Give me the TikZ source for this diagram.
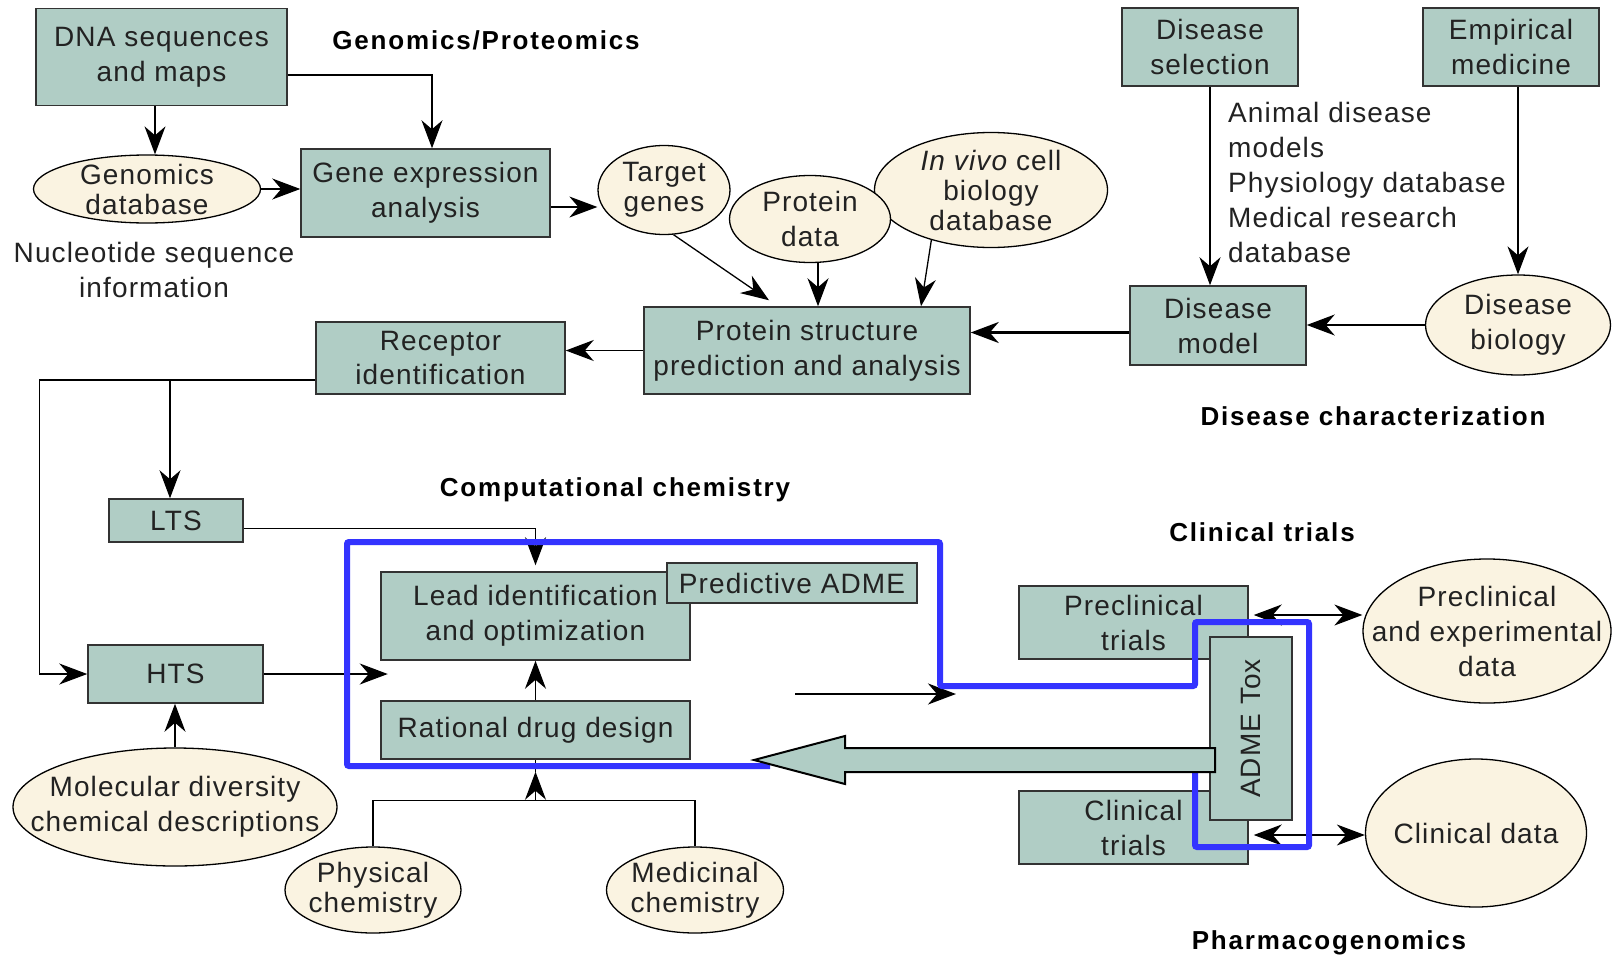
\documentclass[tikz,border=0pt]{standalone}
\usepackage{fontspec}
\setmainfont{Liberation Sans}
\newfontfamily\boxfont[LetterSpace=4]{Liberation Sans}
\newfontfamily\lblfont[LetterSpace=7]{Liberation Sans}
\usetikzlibrary{shapes.geometric,arrows.meta,calc}
\definecolor{boxfill}{HTML}{B0CDC5}
\definecolor{ellfill}{HTML}{FAF3E1}
\definecolor{hiblue}{HTML}{3333FF}
\definecolor{txt}{HTML}{222222}
\definecolor{edge}{HTML}{333333}
\newcommand\bxfnt{\boxfont\fontsize{28}{35}\selectfont}
\newcommand\tightfnt{\boxfont\fontsize{28}{30}\selectfont}
\newcommand\lbfnt{\lblfont\bfseries\fontsize{26}{32}\selectfont}
\begin{document}
\begin{tikzpicture}[x=1pt,y=-1pt,
  box/.style={draw=edge, line width=1.5pt, fill=boxfill, inner sep=0pt, align=center, font=\bxfnt, text=txt},
  ell/.style={ellipse, draw=black, line width=1.3pt, fill=ellfill, inner sep=-40pt, align=center, font=\bxfnt, text=txt},
  lbl/.style={font=\lbfnt, text=black, inner sep=0pt},
  note/.style={font=\bxfnt, text=txt, inner sep=0pt},
  arr/.style={draw=black, line width=1.3pt, -{Stealth[length=28pt,width=21pt,inset=9pt]}},
  darr/.style={draw=black, line width=1.3pt, {Stealth[length=28pt,width=21pt,inset=9pt]}-{Stealth[length=28pt,width=21pt,inset=9pt]}},
  plain/.style={draw=black, line width=1.3pt},
]
\useasboundingbox (0,0) rectangle (1616,958);
\fill[white] (0,0) rectangle (1616,958);

% ---- top left
\node[box, minimum width=251pt, minimum height=97pt] (dna) at (161.5,57) {DNA sequences\\and maps};
\node[box, minimum width=249pt, minimum height=88pt] (gene) at (425.5,193) {Gene expression\\analysis};
\node[ell, font=\tightfnt, minimum width=227pt, minimum height=68pt] (gdb) at (147,189) {Genomics\\database};
\node[ell, font=\tightfnt, minimum width=132pt, minimum height=89pt] (target) at (664,190) {Target\\genes};
\node[ell, font=\tightfnt, minimum width=233pt, minimum height=115pt] (invivo) at (991,190) {{\itshape In vivo} cell\\biology\\database};
\node[ell, minimum width=161pt, minimum height=87pt] (pdata) at (810,219) {Protein\\data};
\node[box, minimum width=326pt, minimum height=87pt] (pstruct) at (807,350.5) {Protein structure\\prediction and analysis};
\node[box, minimum width=249pt, minimum height=72pt] (recep) at (440.5,358) {Receptor\\identification};

% ---- top right
\node[box, minimum width=176pt, minimum height=78pt] (dsel) at (1210,47) {Disease\\selection};
\node[box, minimum width=176pt, minimum height=78pt] (emp) at (1511,47) {Empirical\\medicine};
\node[box, minimum width=176pt, minimum height=79pt] (dmodel) at (1218,325.5) {Disease\\model};
\node[ell, minimum width=185pt, minimum height=100pt] (dbio) at (1518,325) {Disease\\biology};

% ---- lower left
\node[box, minimum width=134pt, minimum height=43pt] (lts) at (176,520.5) {LTS};
\node[box, minimum width=175pt, minimum height=58pt] (hts) at (175.5,674) {HTS};
\node[box, minimum width=309pt, minimum height=88pt] (lead) at (535.5,616) {Lead identification\\and optimization};
\node[box, minimum width=250pt, minimum height=40pt] (padme) at (792,583) {Predictive ADME};
\node[box, minimum width=309pt, minimum height=58pt] (rdd) at (535.5,730) {Rational drug design};
\node[ell, minimum width=324pt, minimum height=118pt] (moldiv) at (175,807) {Molecular diversity\\chemical descriptions};
\node[ell, font=\tightfnt, minimum width=176pt, minimum height=86pt] (phys) at (373,890) {Physical\\chemistry};
\node[ell, font=\tightfnt, minimum width=177pt, minimum height=86pt] (med) at (695,890) {Medicinal\\chemistry};

% ---- lower right
\node[box, minimum width=229pt, minimum height=73pt] (precl) at (1133.5,622.5) {Preclinical\\trials};
\node[box, minimum width=229pt, minimum height=73pt] (clin) at (1133.5,827.5) {Clinical\\trials};
\node[box, rotate=90, minimum width=183pt, minimum height=82pt] (adme) at (1251,728.5) {ADME Tox};
\node[ell, minimum width=248pt, minimum height=144pt] (precld) at (1487,631) {Preclinical\\and experimental\\data};
\node[ell, minimum width=221pt, minimum height=148pt] (clind) at (1476,833) {Clinical data};

% ---- labels and notes
\node[lbl] (lgp) at (486,40) {Genomics/Proteomics};
\node[lbl] (ldc) at (1373,416) {Disease characterization};
\node[lbl] (lcc) at (615,490) {Computational chemistry};
\node[lbl] (lct) at (1262,532) {Clinical trials};
\node[lbl] (lpg) at (1329,943) {Pharmacogenomics};
\node[note, align=left, anchor=north west] (nanimal) at (1228,102) {Animal disease\\models\\Physiology database\\Medical research\\database};
\node[note, align=center, anchor=north] (nnuc) at (154,242) {Nucleotide sequence\\information};

% ---- connectors
\coordinate (dnaS) at ([xshift=-6.5]dna.south);
\draw[arr] (dnaS) -- (dnaS |- gdb.north);
\coordinate (dnaE) at ([yshift=-18]dna.east);
\coordinate (geneN) at ([xshift=6.5]gene.north);
\draw[arr] (dnaE) -| (geneN);
\draw[arr] (gdb.east) -- (gdb.east -| gene.west);
\coordinate (geneE) at ([yshift=-14]gene.east);
\draw[arr] (geneE) -- (geneE -| target.west);
\coordinate (pstT) at ([xshift=-38pt,yshift=6pt]pstruct.north);
\draw[arr] (target.-78) -- (pstT);
\coordinate (pdS) at ([xshift=8]pdata.south);
\draw[arr] (pdS) -- (pdS |- pstruct.north);
\coordinate (pstI) at ([xshift=114]pstruct.north);
\draw[arr] (invivo.-140) -- (pstI);
\coordinate (dmW) at ([yshift=-7]dmodel.west);
\draw[arr, line width=2.8pt] (dmW) -- (dmW -| pstruct.east);
\draw[arr] (pstruct.west) -- (pstruct.west -| recep.east);
\draw[arr] (dbio.west) -- (dbio.west -| dmodel.east);
\draw[arr] (dsel.south) -- (dsel.south |- dmodel.north);
\draw[arr] (dbio.north |- emp.south) -- (dbio.north);

\coordinate (recW) at ([yshift=-22]recep.west);
\coordinate (htsL) at ([xshift=-48]hts.west);
\draw[arr] (recW) -| (htsL) -- (hts.west);
\coordinate (ltsB) at ([xshift=-6]lts.north);
\draw[arr] (ltsB |- recW) -- (ltsB);
\coordinate (ltsE) at ([yshift=-8]lts.east);
\coordinate (leadT) at ([yshift=6]lead.north);
\draw[arr] (ltsE) -| (leadT);
\coordinate (htsEnd) at ([xshift=124]hts.east);
\draw[arr] (hts.east) -- (htsEnd);
\draw[arr] (rdd.north) -- (lead.south);
\draw[arr] (moldiv.north) -- (moldiv.north |- hts.south);
\coordinate (physT) at ([yshift=46]phys.north);
\coordinate (chemJ) at (physT -| rdd.south);
\draw[plain] (phys.north) -- (physT) -| (med.north);
\coordinate (rddB) at ([yshift=-12]rdd.south);
\draw[plain] (rddB) -- (rdd.south);
\draw[arr] (chemJ) -- (rddB);

\coordinate (bk1) at (795,694);
\coordinate (bk2) at (956,694);
\draw[arr, line width=2.5pt] (bk1) -- (bk2);

\coordinate (prE) at ([yshift=7.5]precl.east);
\draw[darr, shorten <=5pt] (prE) -- (prE -| precld.west);
\coordinate (clE) at ([yshift=-7.5]clin.east);
\draw[darr, shorten <=5pt] (clE) -- (clE -| clind.west);

% ---- blue outline
\draw[hiblue, line width=6pt, rounded corners=2pt] (1195,765) -- (1195,847) -- (1309,847) -- (1309,622) -- (1195,622) -- (1195,686) -- (940,686) -- (940,542) -- (347,542) -- (347,766) -- (770,766);

% ---- big return arrow
\filldraw[fill=boxfill, draw=black, line width=2pt] (1215,748) -- (845,748) -- (845,736) -- (754,760) -- (845,784) -- (845,772) -- (1215,772) -- cycle;
\end{tikzpicture}
\end{document}
